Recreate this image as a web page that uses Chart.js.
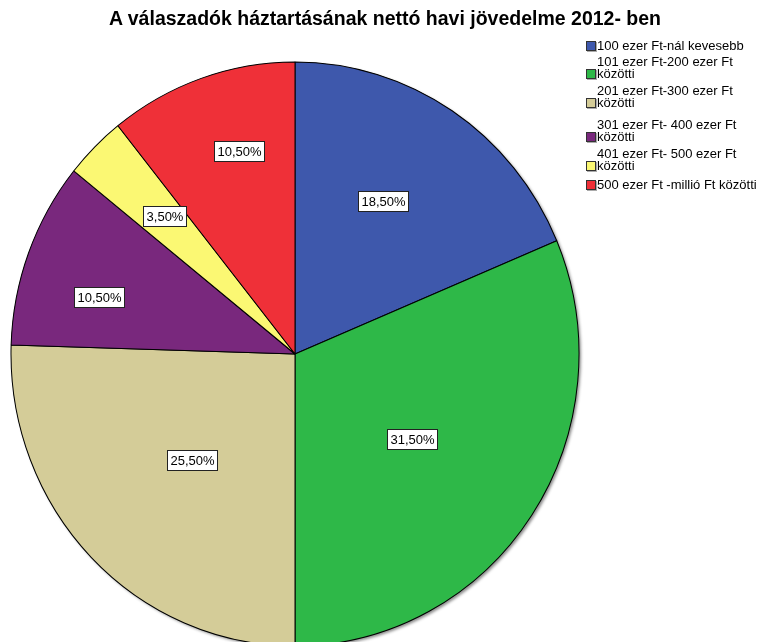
<!DOCTYPE html>
<html>
<head>
<meta charset="utf-8">
<script src="https://cdn.jsdelivr.net/npm/chart.js@4/dist/chart.umd.min.js"></script>
<style>
  html, body { margin: 0; padding: 0; background: #fff; }
  #wrap { position: relative; width: 758px; height: 642px; overflow: hidden; }
  #title { position: absolute; left: 0; width: 770px; top: 7px; text-align: center;
           font: bold 19.5px "Liberation Sans", Arial, sans-serif; color: #000; white-space: nowrap; }
  #legend { position: absolute; left: 586px; top: 0; font: 13px "Liberation Sans", Arial, sans-serif; color: #000; }
  .item { position: absolute; left: 0; display: flex; align-items: flex-end; white-space: nowrap; }
  .box { width: 8px; height: 8px; border: 1px solid #333; margin-right: 1px; margin-bottom: 1px; flex: none; box-shadow: 1px 1px 0 #aaa; }
  .txt { line-height: 12px; }
</style>
</head>
<body>
<div id="wrap">
  <canvas id="c" width="758" height="642"></canvas>
  <div id="title"></div>
  <div id="legend"></div>
</div>
<script>
const titleText = 'A válaszadók háztartásának nettó havi jövedelme 2012- ben';
const categories = [
  ['100 ezer Ft-nál kevesebb'],
  ['101 ezer Ft-200 ezer Ft', 'közötti'],
  ['201 ezer Ft-300 ezer Ft', 'közötti'],
  ['301 ezer Ft- 400 ezer Ft', 'közötti'],
  ['401 ezer Ft- 500 ezer Ft', 'közötti'],
  ['500 ezer Ft -millió Ft közötti']
];
const values = [18.5, 31.5, 25.5, 10.5, 3.5, 10.5];
const colors = ['#3E58AC', '#2EB848', '#D4CC98', '#79287D', '#FBF873', '#EF3038'];

// style settings (not data)
const yStretch = 292 / 284;
const labelAngFrac = [0.45, 0.525, 0.48, 0.38, 0.56, 0.59];
const labelDistFrac = [0.62, 0.51, 0.52, 0.72, 0.67, 0.74];
const legendTops = [40, 56, 85, 119, 148, 179];

document.getElementById('title').textContent = titleText;
const leg = document.getElementById('legend');
categories.forEach((lines, i) => {
  const it = document.createElement('div');
  it.className = 'item';
  it.style.top = legendTops[i] + 'px';
  const b = document.createElement('div');
  b.className = 'box';
  b.style.background = colors[i];
  const t = document.createElement('div');
  t.className = 'txt';
  lines.forEach((s, j) => {
    if (j) t.appendChild(document.createElement('br'));
    t.appendChild(document.createTextNode(s));
  });
  it.appendChild(b); it.appendChild(t);
  leg.appendChild(it);
});

function toParam(a) {
  let b = Math.atan2(Math.sin(a) / yStretch, Math.cos(a));
  b += 2 * Math.PI * Math.round((a - b) / (2 * Math.PI));
  return b;
}

const ellipsePlugin = {
  id: 'ellipse',
  afterUpdate(chart) {
    chart.getDatasetMeta(0).data.forEach(a => {
      a._trueStart = a.startAngle;
      a._trueEnd = a.endAngle;
    });
  },
  beforeDatasetsDraw(chart) {
    const ctx = chart.ctx;
    const meta = chart.getDatasetMeta(0);
    meta.data.forEach(a => {
      const s = toParam(a._trueStart), e = toParam(a._trueEnd);
      a.startAngle = s; a.endAngle = e; a.circumference = e - s;
    });
    const arc = meta.data[0];
    const cx = arc.x, cy = arc.y;
    // soft outer shadow like the original
    ctx.save();
    ctx.shadowColor = 'rgba(0,0,0,0.45)';
    ctx.shadowBlur = 3;
    ctx.shadowOffsetX = 2;
    ctx.shadowOffsetY = 2;
    ctx.fillStyle = '#888';
    ctx.beginPath();
    ctx.ellipse(cx, cy, arc.outerRadius, arc.outerRadius * yStretch, 0, 0, Math.PI * 2);
    ctx.fill();
    ctx.restore();
    ctx.save();
    ctx.translate(cx, cy);
    ctx.scale(1, yStretch);
    ctx.translate(-cx, -cy);
  },
  afterDatasetsDraw(chart) {
    const ctx = chart.ctx;
    ctx.restore();
    const meta = chart.getDatasetMeta(0);
    ctx.save();
    ctx.font = '13px "Liberation Sans", Arial, sans-serif';
    ctx.textAlign = 'center';
    ctx.textBaseline = 'middle';
    meta.data.forEach((a, i) => {
      const ang = a._trueStart + (a._trueEnd - a._trueStart) * labelAngFrac[i];
      const d = a.outerRadius * labelDistFrac[i];
      const x = a.x + Math.cos(ang) * d;
      const y = a.y + Math.sin(ang) * d;
      const txt = values[i].toFixed(2).replace('.', ',') + '%';
      const w = Math.round(ctx.measureText(txt).width) + 6;
      const h = 20;
      const bx = Math.round(x - w / 2) + 0.5, by = Math.round(y - h / 2) + 0.5;
      ctx.fillStyle = '#fff';
      ctx.fillRect(bx, by, w, h);
      ctx.strokeStyle = '#222';
      ctx.lineWidth = 1;
      ctx.strokeRect(bx, by, w, h);
      ctx.fillStyle = '#000';
      ctx.fillText(txt, bx + w / 2, by + h / 2 + 0.5);
    });
    ctx.restore();
  }
};

new Chart(document.getElementById('c'), {
  type: 'pie',
  data: {
    labels: categories.map(l => l.join(' ')),
    datasets: [{
      data: values,
      backgroundColor: colors,
      borderColor: '#000',
      borderWidth: 1,
      radius: 284
    }]
  },
  options: {
    responsive: false,
    animation: false,
    layout: { padding: { left: 11, right: 179, top: 70, bottom: 4 } },
    plugins: {
      legend: { display: false },
      title: { display: false },
      tooltip: { enabled: false }
    }
  },
  plugins: [ellipsePlugin]
});
</script>
</body>
</html>
